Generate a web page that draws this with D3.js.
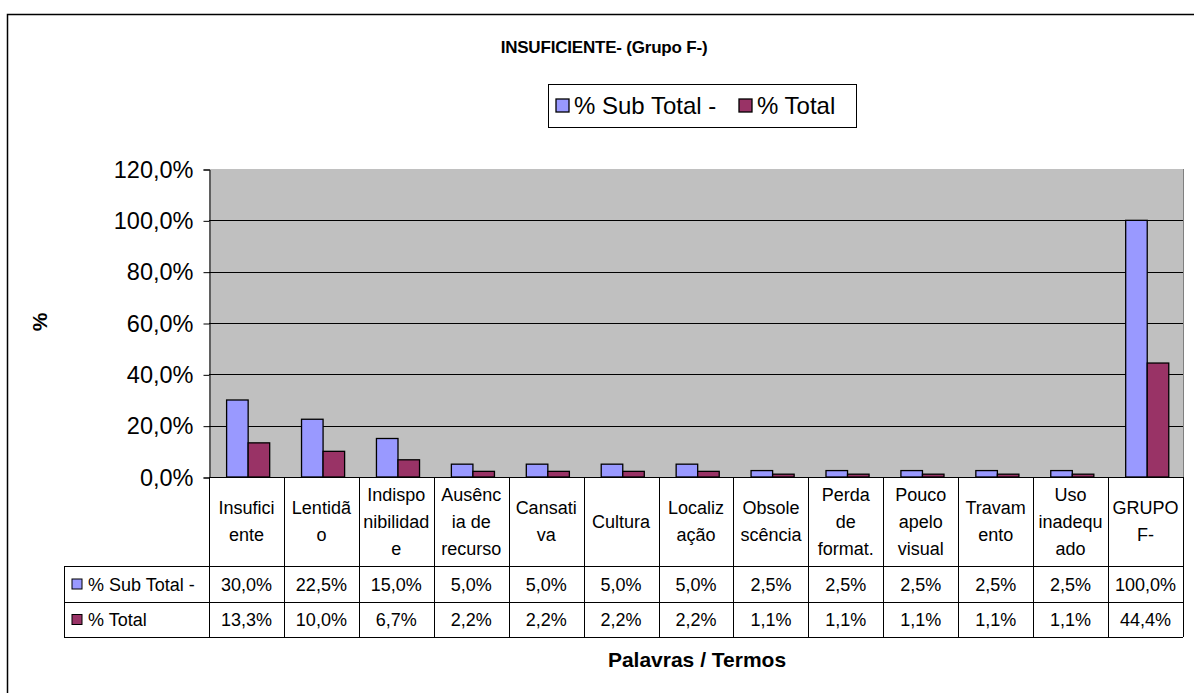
<!DOCTYPE html>
<html>
<head>
<meta charset="utf-8">
<script src="https://cdn.jsdelivr.net/npm/d3@7"></script>
<style>
  body { margin: 0; background: #fff; }
  svg { display: block; font-family: Arial, "Liberation Sans", sans-serif; }
</style>
</head>
<body>
<svg id="chart" width="1194" height="693"></svg>
<script>
// categorias (linhas do cabeçalho da tabela)
var categories = ["Insuficiente", "Lentidão", "Indisponibilidade", "Ausência de recurso", "Cansativa",
  "Cultura", "Localização", "Obsolescência", "Perda de format.", "Pouco apelo visual",
  "Travamento", "Uso inadequado", "GRUPO F-"];
var catLines = [["Insufici", "ente"], ["Lentidã", "o"], ["Indispo", "nibilidad", "e"],
  ["Ausênc", "ia de", "recurso"], ["Cansati", "va"], ["Cultura"], ["Localiz", "ação"],
  ["Obsole", "scência"], ["Perda", "de", "format."], ["Pouco", "apelo", "visual"],
  ["Travam", "ento"], ["Uso", "inadequ", "ado"], ["GRUPO", "F-"]];
var seriesNames = ["% Sub Total -", "% Total"];
var subTotal = [30.0, 22.5, 15.0, 5.0, 5.0, 5.0, 5.0, 2.5, 2.5, 2.5, 2.5, 2.5, 100.0];
var total = [13.3, 10.0, 6.7, 2.2, 2.2, 2.2, 2.2, 1.1, 1.1, 1.1, 1.1, 1.1, 44.4];
var yTicks = [0, 20, 40, 60, 80, 100, 120];
var colors = ["#9999FF", "#993366"];

var svg = d3.select('#chart');
var pl = 209, pr = 1183, pt = 169, pb = 477;
var rowH = [566, 602, 637];
var tableLeft = 64;

var fmt = function (v) { return v.toFixed(1).replace('.', ',') + '%'; };

// moldura externa
svg.append('rect').attr('x', 7.5).attr('y', 14.5).attr('width', 1200).attr('height', 700)
  .attr('fill', 'none').attr('stroke', '#000').attr('stroke-width', 1.5);

svg.append('text').attr('x', 604).attr('y', 53).attr('text-anchor', 'middle')
  .attr('font-weight', 'bold').attr('font-size', 17).attr('letter-spacing', -0.2)
  .text('INSUFICIENTE- (Grupo F-)');

var x0 = d3.scaleBand().domain(categories).range([pl, pr]);
var x1 = d3.scaleBand().domain(seriesNames).range([x0.bandwidth() * 0.235, x0.bandwidth() * 0.81]);
var y = d3.scaleLinear().domain([0, 120]).range([pb, pt]);

// área do gráfico
svg.append('rect').attr('x', pl).attr('y', pt).attr('width', pr - pl).attr('height', pb - pt)
  .attr('fill', '#C0C0C0');
svg.append('line').attr('x1', pr + 0.5).attr('x2', pr + 0.5).attr('y1', pt).attr('y2', pb)
  .attr('stroke', '#808080');

svg.selectAll('.grid').data(yTicks.filter(function (d) { return d > 0 && d < 120; }))
  .enter().append('line')
  .attr('x1', pl).attr('x2', pr)
  .attr('y1', function (d) { return Math.round(y(d)) + 0.5; })
  .attr('y2', function (d) { return Math.round(y(d)) + 0.5; })
  .attr('stroke', '#000');

var yAxis = svg.append('g').attr('transform', 'translate(' + (pl + 0.5) + ',0.5)')
  .call(d3.axisLeft(y).tickValues(yTicks).tickSize(6).tickPadding(10)
    .tickFormat(function (d) { return fmt(d); }));
yAxis.select('.domain').attr('stroke', '#000');
yAxis.selectAll('line').attr('stroke', '#000');
yAxis.selectAll('text').attr('font-size', 23.5).attr('fill', '#000')
  .attr('font-family', 'Arial, "Liberation Sans", sans-serif');

svg.append('text').attr('transform', 'translate(47,322) rotate(-90)')
  .attr('text-anchor', 'middle').attr('font-weight', 'bold').attr('font-size', 21).text('%');

// barras
var series = [subTotal, total];
var groups = svg.selectAll('.grp').data(categories).enter().append('g')
  .attr('transform', function (d) { return 'translate(' + x0(d) + ',0)'; });
groups.selectAll('rect').data(function (d, i) {
    return series.map(function (s, k) { return { name: seriesNames[k], v: s[i], k: k }; });
  })
  .enter().append('rect')
  .attr('x', function (d) { return x1(d.name); })
  .attr('y', function (d) { return y(d.v); })
  .attr('width', x1.bandwidth())
  .attr('height', function (d) { return pb - y(d.v); })
  .attr('fill', function (d) { return colors[d.k]; })
  .attr('stroke', '#000').attr('stroke-width', 1.3);

// tabela de dados
var bounds = categories.map(function (c) { return x0(c); }).concat([pr]);
svg.selectAll('.vline').data(bounds).enter().append('line')
  .attr('x1', function (d) { return Math.round(d) + 0.5; })
  .attr('x2', function (d) { return Math.round(d) + 0.5; })
  .attr('y1', pb).attr('y2', rowH[2]).attr('stroke', '#000');
svg.append('line').attr('x1', pl).attr('x2', pr).attr('y1', pb + 0.5).attr('y2', pb + 0.5).attr('stroke', '#000');
rowH.forEach(function (h) {
  svg.append('line').attr('x1', tableLeft).attr('x2', pr).attr('y1', h + 0.5).attr('y2', h + 0.5).attr('stroke', '#000');
});
svg.append('line').attr('x1', tableLeft + 0.5).attr('x2', tableLeft + 0.5)
  .attr('y1', rowH[0]).attr('y2', rowH[2]).attr('stroke', '#000');

var headMid = (pb + rowH[0]) / 2;
categories.forEach(function (c, i) {
  var lines = catLines[i];
  var cx = x0(c) + x0.bandwidth() / 2;
  lines.forEach(function (ln, j) {
    svg.append('text').attr('x', cx)
      .attr('y', headMid + (j - (lines.length - 1) / 2) * 27 + 6)
      .attr('text-anchor', 'middle').attr('font-size', 18).text(ln);
  });
});

series.forEach(function (s, k) {
  var mid = (rowH[k] + rowH[k + 1]) / 2;
  svg.append('rect').attr('x', tableLeft + 8).attr('y', mid - 5).attr('width', 10).attr('height', 10)
    .attr('fill', colors[k]).attr('stroke', '#000');
  svg.append('text').attr('x', tableLeft + 24).attr('y', mid + 6.5).attr('font-size', 18).text(seriesNames[k]);
  categories.forEach(function (c, i) {
    svg.append('text').attr('x', x0(c) + x0.bandwidth() / 2).attr('y', mid + 6.5)
      .attr('text-anchor', 'middle').attr('font-size', 18).text(fmt(s[i]));
  });
});

svg.append('text').attr('x', 697).attr('y', 667).attr('text-anchor', 'middle')
  .attr('font-weight', 'bold').attr('font-size', 21).text('Palavras / Termos');

// legenda
var legend = svg.append('g');
legend.append('rect').attr('x', 548.5).attr('y', 84.5).attr('width', 308).attr('height', 43)
  .attr('fill', '#fff').attr('stroke', '#000');
var legX = [556, 739];
seriesNames.forEach(function (n, k) {
  legend.append('rect').attr('x', legX[k]).attr('y', 99).attr('width', 13).attr('height', 13)
    .attr('fill', colors[k]).attr('stroke', '#000').attr('stroke-width', 1.3);
  legend.append('text').attr('x', legX[k] + 18).attr('y', 114).attr('font-size', 24).text(n);
});
</script>
</body>
</html>
